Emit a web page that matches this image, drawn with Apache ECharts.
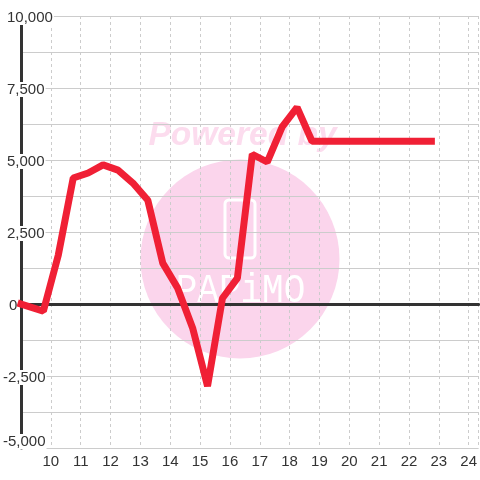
<!DOCTYPE html>
<html>
<head>
<meta charset="utf-8">
<style>html,body{margin:0;padding:0;background:#fff}#main{width:480px;height:480px}</style>
<script src="https://cdn.jsdelivr.net/npm/echarts@6/dist/echarts.min.js"></script>
</head>
<body>
<div id="main"></div>
<script>
const hours = [9, 9.75, 10.25, 10.75, 11.25, 11.75, 12.25, 12.75, 13.25, 13.75, 14.25, 14.75, 15.25, 15.75, 16.25, 16.75, 17.25, 17.75, 18.25, 18.75, 22.75];
const values = [0, -250, 1700, 4375, 4550, 4830, 4650, 4200, 3600, 1420, 550, -830, -2850, 200, 900, 5200, 4930, 6150, 6830, 5650, 5650];

const dark = '#333333';
const font = '"Liberation Sans", Arial, sans-serif';

let myChart = echarts.init(document.getElementById('main'));

// labels start at the same digit column, the minus sign hangs to the left
function yLabel(v) {
  let s = v.toLocaleString('en-US');
  if (v < 0) return '{n|' + s + '}';
  if (v === 0) return '{z|' + s + '}';
  return '{p|' + s + '}';
}

let option = {
  animation: false,
  backgroundColor: '#ffffff',
  grid: { left: 20, right: 0, top: 16, bottom: 32 },
  xAxis: [{
    type: 'value',
    min: 9,
    max: 24.3333,
    interval: 1,
    axisLine: { show: false, onZero: false },
    axisTick: { show: false },
    axisLabel: {
      color: dark,
      fontFamily: font,
      fontSize: 15,
      margin: 6,
      showMinLabel: false,
      showMaxLabel: false,
      formatter: function (v) { return Number.isInteger(v) ? String(v) : ''; }
    },
    splitLine: { show: true, lineStyle: { color: '#cccccc', type: [3, 3], width: 1 } }
  }, {
    type: 'value',
    min: 9,
    max: 24.3333,
    interval: 1,
    axisLine: { show: true, onZero: true, lineStyle: { color: dark, width: 3 } },
    axisTick: { show: false },
    axisLabel: { show: false },
    splitLine: { show: false }
  }],
  yAxis: {
    type: 'value',
    min: -5000,
    max: 10000,
    interval: 2500,
    axisLine: { show: true, onZero: false, lineStyle: { color: dark, width: 3 } },
    axisTick: { show: false },
    minorTick: { show: false, splitNumber: 2 },
    minorSplitLine: { show: true, lineStyle: { color: '#cccccc', width: 1 } },
    splitLine: { show: true, lineStyle: { color: '#cccccc', width: 1 } },
    axisLabel: {
      color: dark,
      fontFamily: font,
      fontSize: 15,
      align: 'left',
      margin: 18,
      padding: [3, 0, 0, 0],
      verticalAlignMinLabel: 'bottom',
      formatter: yLabel,
      rich: {
        p: { fontFamily: font, fontSize: 15, color: dark, padding: [0, 1, 0, 4], backgroundColor: '#ffffff', lineHeight: 13 },
        n: { fontFamily: font, fontSize: 15, color: dark, padding: [0, 1, 0, 0], backgroundColor: '#ffffff', lineHeight: 13 },
        z: { fontFamily: font, fontSize: 15, color: dark, padding: [0, 1, 0, 6], lineHeight: 13 }
      }
    }
  },
  graphic: {
    z: -10,
    elements: [
      { type: 'circle', z: -10, shape: { cx: 240, cy: 259, r: 99.5 }, style: { fill: '#fbd5ec' } },
      { type: 'rect', z: -9, shape: { x: 225, y: 200, width: 30, height: 58, r: 4 }, style: { fill: 'none', stroke: '#ffffff', lineWidth: 3 } },
      { type: 'text', z: -9, x: 242.5, y: 135.5, style: { text: 'Powered by', fill: '#fcdcee', font: 'italic bold 33.5px "Liberation Sans"', textAlign: 'center', textVerticalAlign: 'middle' } },
      { type: 'text', z: -9, x: 240.5, y: 291, scaleX: 0.9, style: { text: 'PAPiMO', fill: '#ffffff', font: '40px "Liberation Mono"', textAlign: 'center', textVerticalAlign: 'middle' } }
    ]
  },
  series: [{
    type: 'line',
    xAxisIndex: 0,
    data: hours.map(function (h, i) { return [h, values[i]]; }),
    showSymbol: false,
    clip: false,
    z: 5,
    lineStyle: { color: '#f02035', width: 7, cap: 'square', join: 'bevel' }
  }]
};

myChart.setOption(option);
</script>
</body>
</html>
